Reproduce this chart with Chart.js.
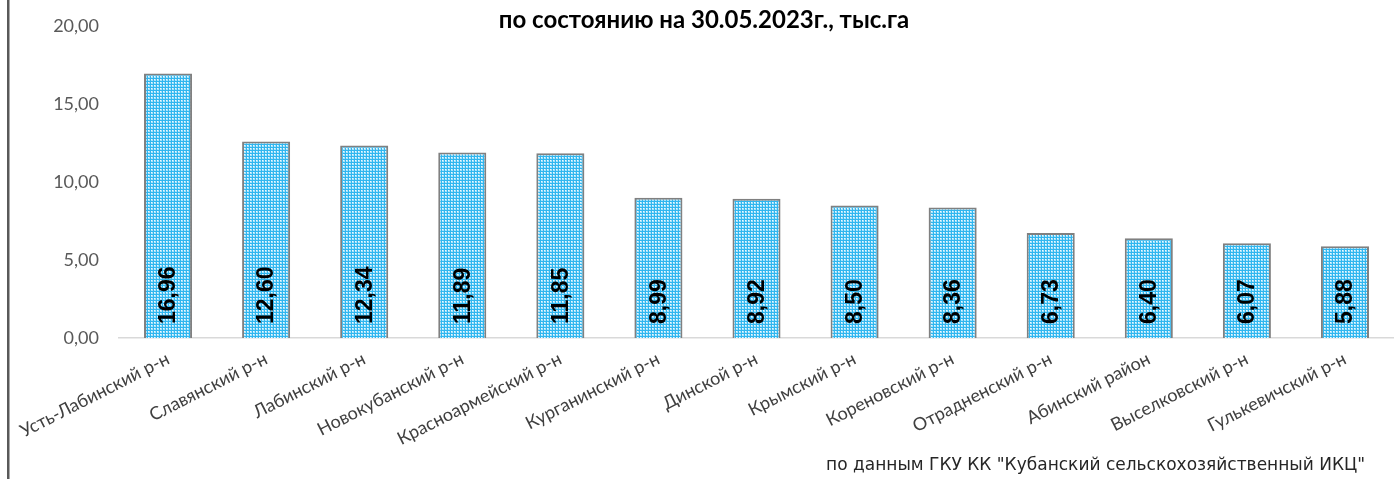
<!DOCTYPE html>
<html>
<head>
<meta charset="utf-8">
<script src="https://cdn.jsdelivr.net/npm/chart.js@4"></script>
<style>
html,body{margin:0;padding:0;background:#fff;}
#wrap{width:1394px;height:479px;position:relative;}
</style>
</head>
<body>
<div id="wrap"><canvas id="c" width="1394" height="479"></canvas></div>
<script>
const categories = ["Усть-Лабинский р-н","Славянский р-н","Лабинский р-н","Новокубанский р-н","Красноармейский р-н","Курганинский р-н","Динской р-н","Крымский р-н","Кореновский р-н","Отрадненский р-н","Абинский район","Выселковский р-н","Гулькевичский р-н"];
const values = [16.96,12.60,12.34,11.89,11.85,8.99,8.92,8.50,8.36,6.73,6.40,6.07,5.88];
const yTicks = [0,5,10,15,20];
const titleText = "по состоянию на 30.05.2023г., тыс.га";
const sourceText = "по данным ГКУ КК \"Кубанский сельскохозяйственный ИКЦ\"";

function fmt(v){ return v.toFixed(2).replace('.', ','); }

function makePattern(){
  const pc = document.createElement('canvas');
  pc.width = 3; pc.height = 3;
  const p = pc.getContext('2d');
  p.fillStyle = '#30b6ef'; p.fillRect(0,0,3,3);
  p.fillStyle = '#a8e2fa'; p.fillRect(1,1,2,2);
  p.fillStyle = '#eefaff'; p.fillRect(1,1,1,1);
  return document.getElementById('c').getContext('2d').createPattern(pc,'repeat');
}

const extras = {
  id:'extras',
  afterDatasetsDraw(chart){
    const ctx = chart.ctx;
    const meta = chart.getDatasetMeta(0);
    ctx.save();
    ctx.fillStyle = '#000';
    ctx.font = 'bold 23px "Liberation Sans", Arial, sans-serif';
    ctx.textAlign = 'left';
    ctx.textBaseline = 'middle';
    meta.data.forEach((bar,i)=>{
      ctx.save();
      ctx.translate(bar.x+1, bar.base - 14);
      ctx.rotate(-Math.PI/2);
      ctx.fillText(fmt(values[i]),0,0);
      ctx.restore();
    });
    ctx.restore();
  },
  afterDraw(chart){
    const ctx = chart.ctx;
    ctx.save();
    ctx.fillStyle = '#595959';
    ctx.fillRect(7,0,2.5,479);
    ctx.fillStyle = '#000';
    ctx.font = 'bold 24px Lato, "Open Sans", sans-serif';
    ctx.textAlign = 'center';
    ctx.textBaseline = 'middle';
    ctx.fillText(titleText, 704, 20);
    ctx.fillStyle = '#262626';
    ctx.font = '17px "DejaVu Sans", sans-serif';
    ctx.textAlign = 'right';
    ctx.fillText(sourceText, 1365, 466);
    ctx.restore();
  }
};

new Chart(document.getElementById('c'), {
  type:'bar',
  data:{
    labels: categories,
    datasets:[{
      data: values,
      backgroundColor: makePattern(),
      borderColor:'#808080',
      borderWidth:2,
      barPercentage:0.49,
      categoryPercentage:1
    }]
  },
  options:{
    responsive:false,
    animation:false,
    layout:{padding:{left:0,top:26,right:-5,bottom:0}},
    plugins:{legend:{display:false},title:{display:false},tooltip:{enabled:false}},
    scales:{
      x:{
        grid:{display:false},
        border:{display:true,color:'#d9d9d9',width:1.5},
        ticks:{
          color:'#404040',
          font:{family:'Lato, "Open Sans", sans-serif',size:18},
          minRotation:27,maxRotation:27,autoSkip:false,padding:2
        },
        afterFit(s){ s.height = 141; }
      },
      y:{
        min:0,max:20,
        afterBuildTicks(s){ s.ticks = yTicks.map(v=>({value:v})); },
        grid:{display:false},
        border:{display:false},
        ticks:{
          color:'#595959',
          font:{family:'Lato, "Open Sans", sans-serif',size:18},
          padding:12,
          callback:(v)=>fmt(v)
        },
        afterFit(s){ s.width = 119; }
      }
    }
  },
  plugins:[extras]
});
</script>
</body>
</html>
